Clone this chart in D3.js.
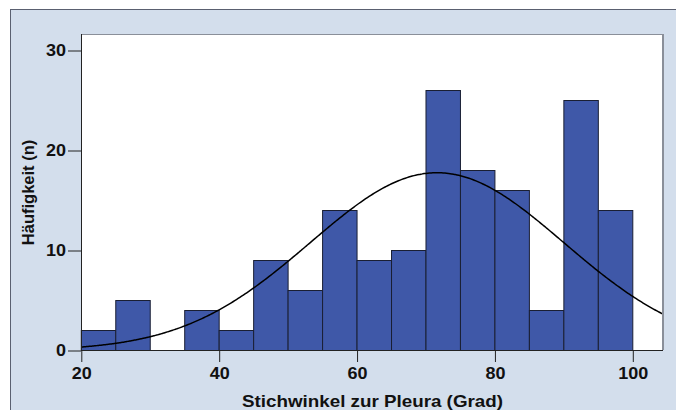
<!DOCTYPE html>
<html>
<head>
<meta charset="utf-8">
<script src="https://cdn.jsdelivr.net/npm/d3@7"></script>
<style>
  html, body { margin: 0; padding: 0; background: #ffffff; }
  svg { display: block; font-family: "Liberation Sans", Arial, sans-serif; }
</style>
</head>
<body>
<svg id="chart" width="676" height="410"></svg>
<script>
// Histogram bins (lower edges, width 5) and counts
const binStarts = [20, 25, 30, 35, 40, 45, 50, 55, 60, 65, 70, 75, 80, 85, 90, 95];
const counts    = [2, 5, 0, 4, 2, 9, 6, 14, 9, 10, 26, 18, 16, 4, 25, 14];
const binWidth = 5;
const xTicks = [20, 40, 60, 80, 100];
const yTicks = [0, 10, 20, 30];
// Fitted normal curve parameters
const curveMean = 71.6;
const curveSD = 18.4;

const svg = d3.select("#chart");
const plot = { left: 81, top: 34, right: 663, bottom: 350 };

// outer panel
svg.append("rect").attr("x", 10.5).attr("y", 9.5).attr("width", 700).attr("height", 420)
  .attr("fill", "#d3deec").attr("stroke", "#5a6070").attr("stroke-width", 1);

const x = d3.scaleLinear().domain([20, 100]).range([81.3, 632.8]);
const y = d3.scaleLinear().domain([0, 30]).range([350.5, 50.5]);

// plot area
svg.append("rect").attr("x", plot.left).attr("y", plot.top)
  .attr("width", plot.right - plot.left).attr("height", plot.bottom - plot.top)
  .attr("fill", "#ffffff");

// bars
svg.append("g").selectAll("rect")
  .data(binStarts.map((s, i) => ({ s, c: counts[i] })).filter(d => d.c > 0))
  .join("rect")
  .attr("x", d => x(d.s))
  .attr("width", d => x(d.s + binWidth) - x(d.s))
  .attr("y", d => y(d.c))
  .attr("height", d => y(0) - y(d.c))
  .attr("fill", "#3f58a8")
  .attr("stroke", "#1a1f33")
  .attr("stroke-width", 1);

// normal curve
const total = d3.sum(counts);
const norm = v => total * binWidth / (curveSD * Math.sqrt(2 * Math.PI)) *
  Math.exp(-((v - curveMean) ** 2) / (2 * curveSD * curveSD));
const xMax = x.invert(plot.right);
const pts = d3.range(20, xMax + 0.001, 0.25).concat([xMax]);
svg.append("path")
  .datum(pts)
  .attr("d", d3.line().x(v => x(v)).y(v => y(norm(v))).curve(d3.curveBasis))
  .attr("fill", "none").attr("stroke", "#000").attr("stroke-width", 1.5);

// plot border: dark left/bottom, gray top/right
svg.append("line").attr("x1", plot.left).attr("x2", plot.right).attr("y1", plot.top + 0.5).attr("y2", plot.top + 0.5)
  .attr("stroke", "#8a8f99").attr("stroke-width", 1);
svg.append("line").attr("x1", plot.right).attr("x2", plot.right).attr("y1", plot.top).attr("y2", plot.bottom)
  .attr("stroke", "#8a8f99").attr("stroke-width", 2);

// tick label styling: slightly wide bold digits
function styleTicks(g) {
  g.selectAll("text")
    .attr("font-size", 16.5).attr("font-weight", "bold").attr("fill", "#111")
    .attr("font-family", "Liberation Sans, Arial, sans-serif")
    .attr("lengthAdjust", "spacingAndGlyphs")
    .attr("textLength", function () { return this.textContent.length * 10; });
}

// axes
const xAxis = d3.axisBottom(x).tickValues(xTicks).tickSize(12).tickSizeOuter(0).tickPadding(5);
const gx = svg.append("g").attr("transform", `translate(0,${plot.bottom})`).call(xAxis);
gx.select(".domain").attr("d", `M${plot.left},0.5H${plot.right}`).attr("stroke", "#222");
gx.selectAll(".tick line").attr("stroke", "#222");
styleTicks(gx);

const yAxis = d3.axisLeft(y).tickValues(yTicks).tickSize(13).tickSizeOuter(0).tickPadding(2);
const gy = svg.append("g").attr("transform", `translate(${plot.left},0)`).call(yAxis);
gy.select(".domain").attr("d", `M0.5,${plot.top}V${plot.bottom}`).attr("stroke", "#222");
gy.selectAll(".tick line").attr("stroke", "#222");
styleTicks(gy);

// axis titles
svg.append("text").attr("x", 372.5).attr("y", 406.5).attr("text-anchor", "middle")
  .attr("font-size", 16.5).attr("font-weight", "bold").attr("fill", "#111")
  .attr("textLength", 261).attr("lengthAdjust", "spacingAndGlyphs")
  .text("Stichwinkel zur Pleura (Grad)");
svg.append("text").attr("transform", "translate(34,192.5) rotate(-90)").attr("text-anchor", "middle")
  .attr("font-size", 16.5).attr("font-weight", "bold").attr("fill", "#111")
  .text("Häufigkeit (n)");
</script>
</body>
</html>
